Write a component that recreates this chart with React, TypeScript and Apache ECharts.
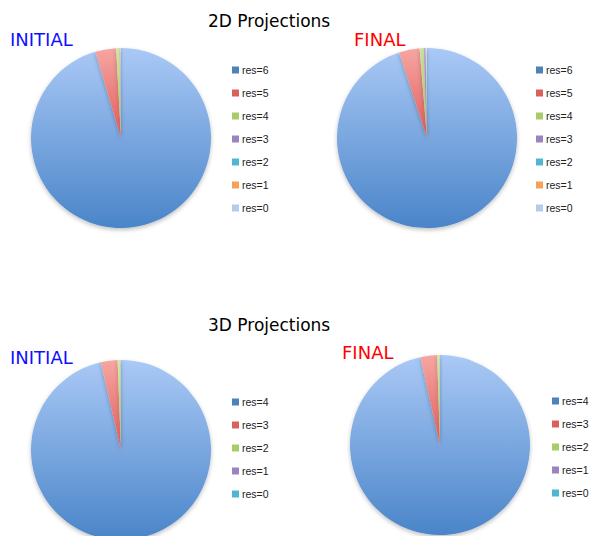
import React, { useEffect, useRef } from "react";
import * as echarts from "echarts";

const names2D = ["res=6", "res=5", "res=4", "res=3", "res=2", "res=1", "res=0"];
const names3D = ["res=4", "res=3", "res=2", "res=1", "res=0"];
const initial2D = [95.4, 3.75, 0.6, 0.12, 0.05, 0.04, 0.04];
const final2D = [95.0, 3.7, 0.7, 0.35, 0.1, 0.05, 0.1];
const initial3D = [96.4, 3.0, 0.5, 0.05, 0.05];
const final3D = [96.5, 3.0, 0.45, 0.03, 0.02];

const colors2D = [
  ["#aac9f6", "#4a85c9", "#4f81bd"],
  ["#f6a6a2", "#df5c5a", "#d9605c"],
  ["#d3e9a0", "#a9cc6a", "#a9cc6a"],
  ["#bcaad6", "#8468ab", "#9b83c0"],
  ["#a6e0ee", "#4bb3cc", "#4fb8d0"],
  ["#fcc69a", "#f48f3f", "#f7a05a"],
  ["#d6e4f6", "#a6c1e6", "#b3cbec"],
];
const colors3D = [colors2D[0], colors2D[1], colors2D[2], colors2D[3], colors2D[4]];

function grad(c: string[]) {
  return new echarts.graphic.LinearGradient(0, 0, 0, 1, [
    { offset: 0, color: c[0] },
    { offset: 1, color: c[1] },
  ]);
}

function pie(names: string[], vals: number[], cols: string[][], center: [number, number]) {
  return {
    type: "pie",
    center,
    radius: 90,
    startAngle: 90,
    clockwise: true,
    label: { show: false },
    labelLine: { show: false },
    emphasis: { disabled: true },
    itemStyle: {
      shadowBlur: 4,
      shadowOffsetY: 2,
      shadowColor: "rgba(0,0,0,0.25)",
    },
    data: names.map((n, i) => ({
      name: n,
      value: vals[i],
      itemStyle: { color: grad(cols[i]) },
    })),
  };
}

function legend(names: string[], cols: string[][], left: number, top: number) {
  return {
    orient: "vertical",
    left,
    top,
    padding: 0,
    itemWidth: 7,
    itemHeight: 7,
    itemGap: 11,
    icon: "rect",
    selectedMode: false,
    textStyle: { fontSize: 10.5, lineHeight: 12, fontFamily: "Liberation Sans", color: "#222", padding: [0, 0, 0, -2] },
    data: names.map((n, i) => ({ name: n, itemStyle: { color: cols[i][2] } })),
  };
}

export default function App() {
  const ref = useRef<HTMLDivElement>(null);
  useEffect(() => {
    const chart = echarts.init(ref.current!, null, { renderer: "svg" });
    const font = "DejaVu Sans";
    const t = (text: string, left: number, top: number, size: number, color: string) => ({
      text,
      left,
      top,
      padding: 0,
      textStyle: { fontSize: size, fontWeight: "normal", fontFamily: font, color },
    });
    chart.setOption({
      animation: false,
      backgroundColor: "#ffffff",
      title: [
        t("2D Projections", 208, 12, 17, "#000"),
        t("3D Projections", 208, 316, 17, "#000"),
        t("INITIAL", 10, 30, 18, "#1010ff"),
        t("FINAL", 354, 30, 18, "#ff0000"),
        t("INITIAL", 10, 348, 18, "#1010ff"),
        t("FINAL", 342, 343, 18, "#ff0000"),
      ],
      legend: [
        legend(names2D, colors2D, 232, 64),
        legend(names2D, colors2D, 536, 64),
        legend(names3D, colors3D, 232, 396),
        legend(names3D, colors3D, 552, 395),
      ],
      series: [
        pie(names2D, initial2D, colors2D, [121, 138]),
        pie(names2D, final2D, colors2D, [427, 138]),
        pie(names3D, initial3D, colors3D, [121, 450]),
        pie(names3D, final3D, colors3D, [440, 445]),
      ],
    });
    return () => chart.dispose();
  }, []);
  return (
    <div
      ref={ref}
      style={{ position: "fixed", left: 0, top: 0, width: 589, height: 536 }}
    />
  );
}
